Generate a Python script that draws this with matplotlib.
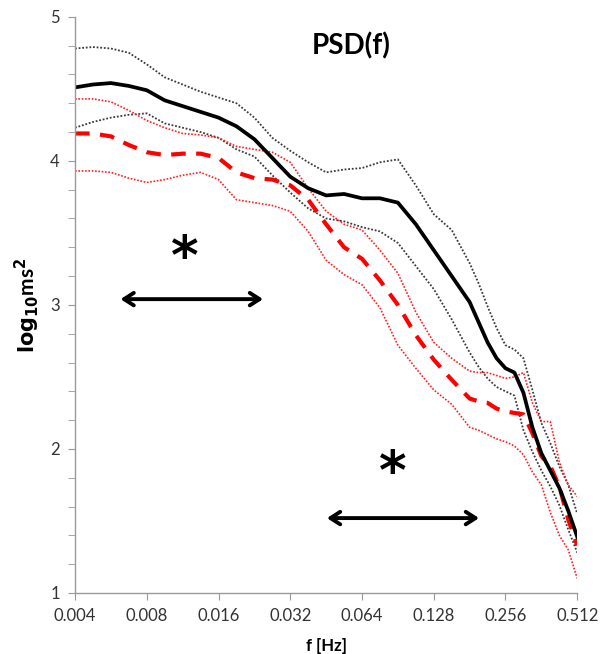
import matplotlib
matplotlib.use("Agg")
import matplotlib.pyplot as plt
from matplotlib.ticker import FixedLocator, MultipleLocator, NullFormatter

plt.rcParams['font.family'] = ['Lato', 'DejaVu Sans']

# frequency grid [Hz]
freq = [0.004, 0.004757, 0.005657, 0.006727, 0.008, 0.009514, 0.011314, 0.013454,
        0.016, 0.019027, 0.022627, 0.026909, 0.032, 0.038055, 0.045255, 0.053817,
        0.064, 0.07611, 0.09051, 0.10763, 0.128, 0.15222, 0.18102,
        0.19740, 0.21527, 0.23476, 0.256, 0.27917, 0.30443, 0.33199,
        0.36204, 0.39480, 0.43054, 0.46951, 0.512]

# group 1 (black): mean and CI bounds, log10 ms^2
mean_1 = [4.51, 4.53, 4.54, 4.52, 4.49, 4.42, 4.38, 4.34, 4.30, 4.24, 4.15, 4.02,
          3.89, 3.81, 3.76, 3.77, 3.74, 3.74, 3.71, 3.56, 3.38, 3.20, 3.02,
          2.88, 2.74, 2.63, 2.56, 2.53, 2.39, 2.15, 1.97, 1.85, 1.73, 1.57, 1.39]
upper_1 = [4.78, 4.79, 4.78, 4.75, 4.67, 4.58, 4.53, 4.48, 4.44, 4.40, 4.30, 4.16,
           4.07, 3.99, 3.92, 3.94, 3.95, 3.99, 4.01, 3.83, 3.63, 3.52, 3.29,
           3.15, 2.99, 2.84, 2.72, 2.69, 2.63, 2.41, 2.18, 2.04, 1.88, 1.75, 1.55]
lower_1 = [4.23, 4.27, 4.30, 4.32, 4.33, 4.26, 4.23, 4.20, 4.16, 4.08, 4.03, 3.90,
           3.78, 3.67, 3.60, 3.58, 3.54, 3.51, 3.43, 3.27, 3.11, 2.90, 2.67,
           2.57, 2.49, 2.43, 2.40, 2.37, 2.13, 1.98, 1.85, 1.74, 1.61, 1.44, 1.28]

# group 2 (red): mean and CI bounds
mean_2 = [4.19, 4.19, 4.17, 4.11, 4.06, 4.04, 4.05, 4.05, 4.02, 3.92, 3.88, 3.87,
          3.83, 3.73, 3.56, 3.40, 3.32, 3.17, 3.00, 2.79, 2.62, 2.48, 2.35,
          2.33, 2.32, 2.28, 2.26, 2.25, 2.24, 2.11, 1.95, 1.88, 1.74, 1.51, 1.33]
upper_2 = [4.43, 4.43, 4.41, 4.35, 4.28, 4.23, 4.19, 4.18, 4.16, 4.10, 4.08, 4.06,
           3.99, 3.81, 3.65, 3.56, 3.52, 3.38, 3.22, 2.95, 2.74, 2.63, 2.54,
           2.53, 2.53, 2.51, 2.49, 2.50, 2.53, 2.32, 2.19, 2.19, 1.91, 1.75, 1.67]
lower_2 = [3.93, 3.93, 3.92, 3.88, 3.85, 3.87, 3.90, 3.92, 3.87, 3.73, 3.71, 3.69,
           3.65, 3.51, 3.31, 3.21, 3.14, 2.98, 2.72, 2.56, 2.41, 2.31, 2.15,
           2.13, 2.10, 2.07, 2.05, 2.02, 1.96, 1.84, 1.75, 1.56, 1.40, 1.30, 1.10]

xticks = [0.004, 0.008, 0.016, 0.032, 0.064, 0.128, 0.256, 0.512]

fig = plt.figure(figsize=(6.08, 6.54), dpi=100)
ax = fig.add_axes([0.1234, 0.0933, 0.826, 0.881])

# confidence bounds
ax.plot(freq, upper_1, color='#3a3a3a', linestyle=(0, (1, 1)), linewidth=1.3)
ax.plot(freq, lower_1, color='#3a3a3a', linestyle=(0, (1, 1)), linewidth=1.3)
ax.plot(freq, upper_2, color='#ff2020', linestyle=(0, (1, 1)), linewidth=1.2)
ax.plot(freq, lower_2, color='#ff2020', linestyle=(0, (1, 1)), linewidth=1.2)

# means
ax.plot(freq, mean_2, color='#ff0000', linestyle=(0, (3.5, 2.5)), linewidth=3.0)
ax.plot(freq, mean_1, color='black', linestyle='-', linewidth=2.7)

ax.set_xscale('log', base=2)
ax.set_xlim(0.004, 0.512)
ax.set_ylim(1, 5)
ax.xaxis.set_major_locator(FixedLocator(xticks))
ax.xaxis.set_minor_locator(FixedLocator([]))
ax.xaxis.set_minor_formatter(NullFormatter())
ax.set_xticklabels([f"{t:.3f}" for t in xticks])
ax.yaxis.set_major_locator(MultipleLocator(1))
ax.yaxis.set_minor_locator(MultipleLocator(0.2))

for side in ['top', 'right']:
    ax.spines[side].set_visible(False)
for side in ['left', 'bottom']:
    ax.spines[side].set_color('#999999')
    ax.spines[side].set_linewidth(1.0)

ax.tick_params(axis='both', which='both', direction='out', color='#999999',
               labelcolor='#333333', labelsize=12)
ax.tick_params(axis='both', which='major', length=5, pad=6)
ax.tick_params(axis='y', which='minor', length=5)

ax.set_xlabel('f [Hz]', fontsize=12, fontweight='bold', labelpad=10)
ax.set_ylabel(r'$\mathbf{log_{10}}$ms$^\mathbf{2}$', fontsize=15, fontweight='bold', labelpad=6)

ax.text(0.55, 0.95, 'PSD(f)', transform=ax.transAxes, ha='center', va='center',
        fontsize=20, fontweight='bold')

# significance markers
ax.text(0.219, 0.580, '*', transform=ax.transAxes, ha='center', va='center',
        fontsize=38, fontweight='bold', family='DejaVu Sans')
ax.annotate('', xy=(0.085, 0.51), xytext=(0.38, 0.51), xycoords='axes fraction',
            arrowprops=dict(arrowstyle='<->,head_length=0.7,head_width=0.45',
                            color='black', linewidth=2.8))
ax.text(0.633, 0.207, '*', transform=ax.transAxes, ha='center', va='center',
        fontsize=38, fontweight='bold', family='DejaVu Sans')
ax.annotate('', xy=(0.496, 0.13), xytext=(0.81, 0.13), xycoords='axes fraction',
            arrowprops=dict(arrowstyle='<->,head_length=0.7,head_width=0.45',
                            color='black', linewidth=2.8))

fig.savefig('out.png', dpi=100)
